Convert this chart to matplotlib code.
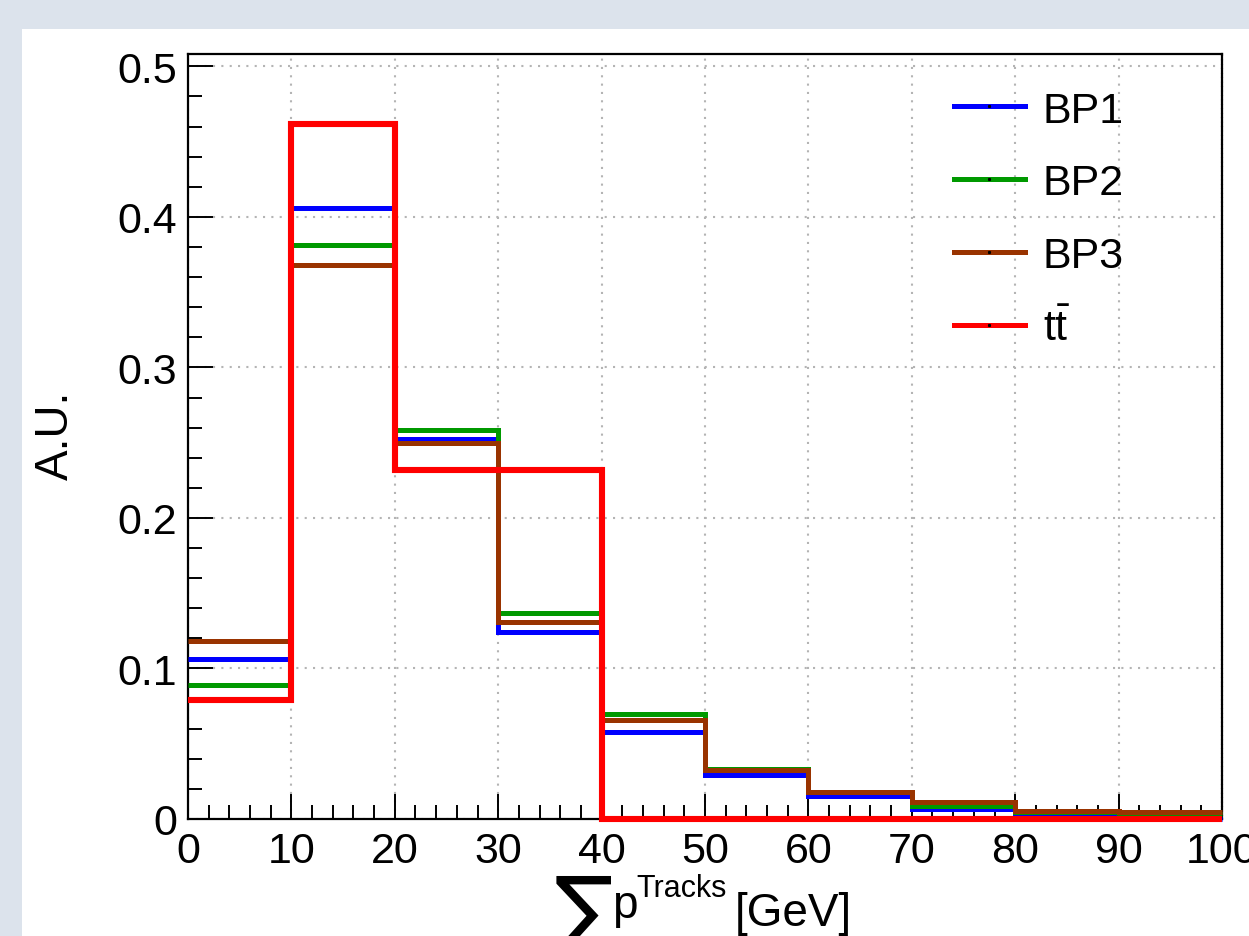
#!/usr/bin/env python3
# Sum p^Tracks distributions, BP1-3 vs ttbar (ROOT-style look)

import matplotlib
matplotlib.use('Agg')
import matplotlib.pyplot as plt
from matplotlib.lines import Line2D
from matplotlib.patches import Rectangle
import numpy as np

plt.rcParams['font.family'] = ['Liberation Sans', 'DejaVu Sans']
plt.rcParams['mathtext.fontset'] = 'custom'
plt.rcParams['mathtext.rm'] = 'Liberation Sans'

# bin edges in GeV and normalised contents
edges = np.arange(0, 101, 10)
bp1 = [0.106, 0.406, 0.2525, 0.124, 0.058, 0.029, 0.015, 0.0066, 0.003, 0.0]
bp2 = [0.089, 0.381, 0.2585, 0.137, 0.070, 0.033, 0.018, 0.0088, 0.0045, 0.003]
bp3 = [0.118, 0.368, 0.250, 0.131, 0.066, 0.0327, 0.018, 0.011, 0.0051, 0.0046]
ttbar = [0.079, 0.462, 0.232, 0.232, 0.0, 0.0, 0.0, 0.0, 0.0, 0.0]

labels = ['BP1', 'BP2', 'BP3', r'$\mathrm{t\bar{t}}$']
colors = ['#0000ff', '#009900', '#993300', '#ff0000']
widths = [3.6, 3.6, 3.6, 4.4]
x_ticks = [0, 10, 20, 30, 40, 50, 60, 70, 80, 90, 100]
y_ticks = [0, 0.1, 0.2, 0.3, 0.4, 0.5]

W, H = 1249, 937
fig = plt.figure(figsize=(W / 100, H / 100), dpi=100, facecolor='#dce3ec')
fig.add_artist(Rectangle((22 / W, 0), 1 - 22 / W, 1 - 30 / H,
                         transform=fig.transFigure, facecolor='white',
                         edgecolor='none', zorder=-1))

ax = fig.add_axes([188 / W, 1 - 820 / H, (1222 - 188) / W, (820 - 55) / H])

for vals, c, lw in zip([bp1, bp2, bp3, ttbar], colors, widths):
    ax.stairs(vals, edges, baseline=None, color=c, lw=lw, clip_on=False, zorder=3)

ax.set_xlim(0, 100)
ax.set_ylim(0, 0.462 * 1.1)
ax.set_xticks(x_ticks)
ax.set_xticklabels(['0', '10', '20', '30', '40', '50', '60', '70', '80', '90', '100'])
ax.set_yticks(y_ticks)
ax.set_yticklabels(['0', '0.1', '0.2', '0.3', '0.4', '0.5'])
ax.set_xticks(np.arange(0, 101, 2), minor=True)
ax.set_yticks(np.arange(0, 0.51, 0.02), minor=True)

ax.tick_params(which='both', direction='in', top=False, right=False,
               width=1.4, color='black', labelsize=31)
ax.tick_params(which='major', length=18)
ax.tick_params(which='minor', length=10)
ax.tick_params(axis='x', pad=9)
ax.tick_params(axis='y', pad=8)

ax.grid(True, which='major', color='#b4b4b4', linestyle=(0, (1, 3)), lw=1.5)
ax.set_axisbelow(True)

for s in ['left', 'bottom', 'top']:
    ax.spines[s].set_linewidth(1.6)
ax.spines['right'].set_linewidth(1.6)
ax.spines['right'].set_linestyle((0, (1.2, 0.8)))

# legend
handles = [Line2D([], [], color=c, lw=3.6, marker='s', markersize=1.2,
                  markerfacecolor='k', markeredgecolor='k') for c in colors]
ax.legend(handles, labels, loc='upper left', bbox_to_anchor=(932 / W, 1 - 70 / H),
          bbox_transform=fig.transFigure, frameon=False, fontsize=31,
          borderpad=0, handlelength=1.65, handletextpad=0.42, labelspacing=0.76)

# axis titles
fig.text(56 / W, 1 - 435 / H, 'A.U.', rotation=90, ha='center', va='center',
         fontsize=33)
fig.text(554 / W, 1 - 940 / H, '\u2211', ha='left', va='baseline', fontsize=64,
         family=['DejaVu Sans'])
fig.text(612 / W, 1 - 918 / H, 'p', ha='left', va='baseline', fontsize=33)
fig.text(636 / W, 1 - 897 / H, 'Tracks', ha='left', va='baseline', fontsize=22)
fig.text(735 / W, 1 - 926 / H, '[GeV]', ha='left', va='baseline', fontsize=33)

fig.savefig('out.png', dpi=100, facecolor=fig.get_facecolor())
